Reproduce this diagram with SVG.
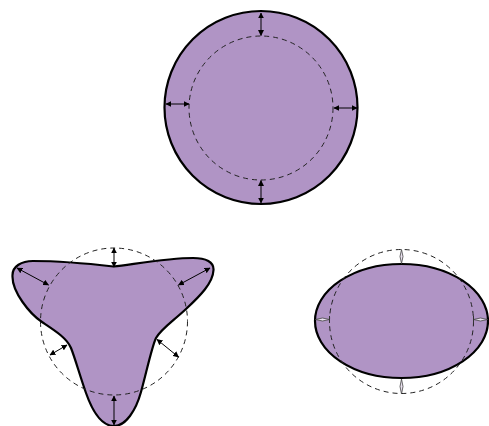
<svg xmlns="http://www.w3.org/2000/svg" width="489" height="426" viewBox="0 0 489 426">
<style>
.shape{fill:#b094c5;stroke:#000;stroke-width:2.2}
.dash{fill:none;stroke:#222;stroke-width:1;stroke-dasharray:5 4}
.arr{fill:none;stroke:#000;stroke-width:1;marker-start:url(#ah);marker-end:url(#ah)}
.lens{fill:#e8e0ee;stroke:#444;stroke-width:0.8}
.tick{stroke:#333;stroke-width:1}
</style>
<defs>
<marker id="ah" viewBox="0 0 10 10" refX="9" refY="5" markerWidth="6" markerHeight="6" markerUnits="userSpaceOnUse" orient="auto-start-reverse">
<path d="M0,0 L10,5 L0,10 Z" fill="#000"/>
</marker>
</defs>
<rect width="489" height="426" fill="#fff"/>
<g id="circle">
<circle class="shape" cx="261" cy="107.5" r="96.5"/>
<circle class="dash" cx="261" cy="108" r="72"/>
</g>
<g id="trilobe">
<path class="shape" d="M113.5,266.5 C135,264 168,258 193,258 C206,258 214,262 213.5,270 C213,283 200,296 186,309 C172,322 161,329 156,338 C152,346 146,374 141,392 C136,410 126,426 114,426 C101,426 92,410 86,393 C80,376 75,358 71,348 C67,338 54,330 42,322 C30,314 12,292 12.5,276 C12,266 22,261 33,261 C60,261 92,264 113.5,266.5 Z"/>
<circle class="dash" cx="114" cy="321.5" r="73.5"/>
</g>
<g id="ellipse">
<ellipse class="shape" cx="401.5" cy="321" rx="86.5" ry="57"/>
<circle class="dash" cx="401.5" cy="321.5" r="72"/>
</g>
<g id="connectors">
<line class="arr" x1="261" y1="13" x2="261" y2="35.5"/>
<line class="arr" x1="261" y1="180.5" x2="261" y2="203"/>
<line class="arr" x1="166" y1="104" x2="189" y2="104"/>
<line class="arr" x1="334" y1="108" x2="357" y2="108"/>
<line class="arr" x1="114" y1="248" x2="114" y2="267"/>
<line class="arr" x1="17" y1="268" x2="48.5" y2="285"/>
<line class="arr" x1="178.5" y1="285" x2="210" y2="268"/>
<line class="arr" x1="50" y1="355" x2="67" y2="345"/>
<line class="arr" x1="157" y1="339.5" x2="178.5" y2="357"/>
<line class="arr" x1="114" y1="396" x2="114" y2="425"/>
<polygon class="lens" points="401.5,249.5 403,256.5 401.5,263.5 400,256.5"/>
<polygon class="lens" points="401.5,379 403,386.5 401.5,394 400,386.5"/>
<polygon class="lens" points="315.5,319.5 322.5,318 329.5,319.5 322.5,321"/>
<line class="tick" x1="329.5" y1="316" x2="329.5" y2="323"/>
<polygon class="lens" points="473.5,319.5 480.5,318 487.5,319.5 480.5,321"/>
<line class="tick" x1="473.5" y1="316" x2="473.5" y2="323"/>
</g>
</svg>
